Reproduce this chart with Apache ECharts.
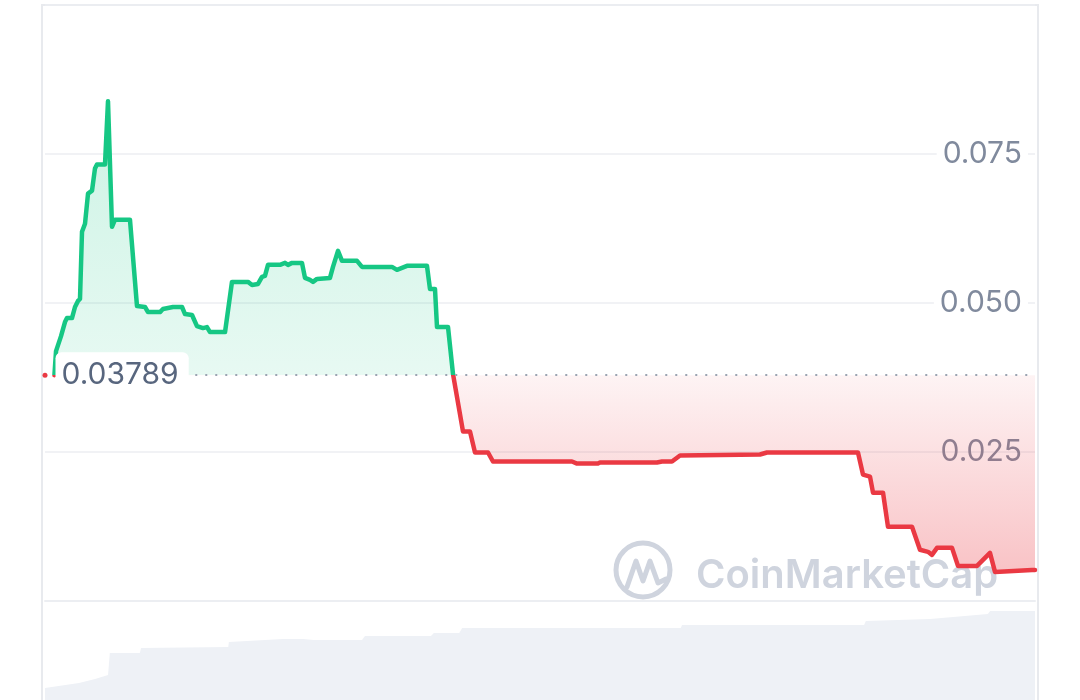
<!DOCTYPE html>
<html>
<head>
<meta charset="utf-8">
<script src="https://cdn.jsdelivr.net/npm/echarts@6/dist/echarts.min.js"></script>
<style>
html,body{margin:0;padding:0;background:#fff;}
#chart{width:1080px;height:700px;}
</style>
</head>
<body>
<div id="chart"></div>
<script>
// ---- data (time in hours over a 7-day window, price in USD) ----
const BASE_PRICE = 0.03789;
const hours = [1.6, 1.87, 2.72, 3.39, 3.73, 4.58, 5.09, 5.60, 5.94, 6.28,
  6.79, 7.30, 7.98, 8.48, 8.82, 10.18, 10.69, 11.37, 11.88, 14.42,
  15.61, 16.97, 17.48, 19.52, 20.02, 21.72, 23.25, 23.76, 24.95, 25.79,
  26.81, 27.49, 28.00, 30.55, 31.73, 34.45, 35.13, 36.15, 36.82, 37.33,
  37.84, 39.88, 40.73, 41.24, 41.92, 43.61, 44.12, 44.97, 45.48, 46.16,
  48.36, 48.87, 49.72, 50.40, 52.95, 53.79, 58.88, 59.73, 60.58, 61.43,
  64.82, 65.33, 66.18, 66.52, 68.39, 69.24, 70.93, 72.12, 72.97, 75.18,
  76.02, 89.43, 90.28, 93.84, 94.18, 103.85, 104.70, 106.40, 107.76, 121.33,
  122.52, 137.96, 138.81, 140.00, 140.51, 142.21, 143.05, 147.13, 148.48, 149.84,
  150.52, 151.37, 153.92, 154.93, 158.16, 158.67, 160.36, 161.21, 167.49, 168];
const prices = [0.03789, 0.04192, 0.04444, 0.04680, 0.04747, 0.04747, 0.04933, 0.05034, 0.05067, 0.06195,
  0.06330, 0.06835, 0.06886, 0.07256, 0.07323, 0.07323, 0.08384, 0.06279, 0.06397, 0.06397,
  0.04949, 0.04933, 0.04848, 0.04848, 0.04899, 0.04933, 0.04933, 0.04815, 0.04798, 0.04613,
  0.04579, 0.04596, 0.04512, 0.04512, 0.05354, 0.05354, 0.05303, 0.05320, 0.05438, 0.05455,
  0.05640, 0.05640, 0.05673, 0.05640, 0.05673, 0.05673, 0.05421, 0.05387, 0.05354, 0.05404,
  0.05421, 0.05606, 0.05875, 0.05707, 0.05707, 0.05606, 0.05606, 0.05556, 0.05589, 0.05623,
  0.05623, 0.05236, 0.05236, 0.04596, 0.04596, 0.03805, 0.02845, 0.02845, 0.02492, 0.02492,
  0.02340, 0.02340, 0.02306, 0.02306, 0.02323, 0.02323, 0.02340, 0.02340, 0.02441, 0.02458,
  0.02492, 0.02492, 0.02121, 0.02088, 0.01818, 0.01818, 0.01246, 0.01246, 0.00859, 0.00825,
  0.00774, 0.00892, 0.00892, 0.00589, 0.00589, 0.00640, 0.00808, 0.00488, 0.00522, 0.00522];
const volHours = [0, 5.77, 8.5, 10.7, 11.0, 16.1, 16.3, 31.1, 31.2, 40.4,
  43.8, 45.6, 53.8, 54.3, 65.5, 66.0, 70.3, 70.8, 107.9, 108.1,
  139.0, 139.3, 150.2, 160.0, 160.4, 168];
const volumes = [12, 17, 21, 25, 47, 47, 52, 53, 58, 61,
  61, 60, 60, 64, 64, 67, 67, 72, 72, 75,
  75, 79, 81, 86, 89, 89];
const priceTicks = [0.025, 0.05, 0.075];
const watermarkText = 'CoinMarketCap';

// ---- build ----
const priceData = hours.map((h, i) => [h, prices[i]]);
const volData = volHours.map((h, i) => [h, volumes[i]]);

const GREEN = '#16c784', RED = '#ea3943';
const gridTop = 5, gridBottomPx = 601;
const yMax = 0.1;
const baseFrac = (yMax - BASE_PRICE) / yMax;

const chart = echarts.init(document.getElementById('chart'));
const option = {
  backgroundColor: '#ffffff',
  animation: false,
  grid: [
    {left: 45, right: 45, top: gridTop, bottom: 700 - gridBottomPx},
    {left: 45, right: 45, top: gridBottomPx, bottom: 0}
  ],
  xAxis: [
    {type: 'value', gridIndex: 0, min: 0, max: 168,
      axisLine: {show: true, lineStyle: {color: '#eceef2', width: 2}},
      axisTick: {show: false}, axisLabel: {show: false}, splitLine: {show: false}},
    {type: 'value', gridIndex: 1, min: 0, max: 168, show: false}
  ],
  yAxis: [
    {type: 'value', gridIndex: 0, min: 0, max: yMax, interval: 0.025, position: 'right',
      axisLine: {show: false}, axisTick: {show: false},
      splitLine: {show: true, lineStyle: {color: '#eceef2', width: 1.5}},
      axisLabel: {
        inside: true, margin: 7, showMinLabel: false, showMaxLabel: false,
        formatter: v => (priceTicks.some(t => Math.abs(t - v) < 1e-9)
          ? (v > BASE_PRICE ? '{w|' + v.toFixed(3) + '}' : '{n|' + v.toFixed(3) + '}') : ''),
        rich: {
          w: {fontFamily: 'Inter', fontSize: 30, color: '#808a9d', backgroundColor: '#ffffff', padding: [2, 6]},
          n: {fontFamily: 'Inter', fontSize: 30, color: '#808a9d', padding: [2, 6]}
        }
      }},
    {type: 'value', gridIndex: 1, min: 0, max: 99, show: false}
  ],
  graphic: [
    {type: 'rect', silent: true, z: -1,
      shape: {x: 42, y: 5, width: 996, height: 720},
      style: {fill: 'none', stroke: '#e8eaee', lineWidth: 2}},
    {type: 'circle', silent: true, z: -1,
      shape: {cx: 643, cy: 570, r: 27},
      style: {fill: 'none', stroke: '#cfd4de', lineWidth: 5}},
    {type: 'polyline', silent: true, z: -1,
      shape: {points: [[627, 587], [636, 561], [643, 581], [650, 561], [658, 583], [666, 579]]},
      style: {fill: 'none', stroke: '#cfd4de', lineWidth: 5, lineJoin: 'round', lineCap: 'round'}},
    {type: 'text', silent: true, z: -1, x: 696, y: 576,
      style: {text: watermarkText, fill: '#cfd4de', font: '600 40px Inter', verticalAlign: 'middle', align: 'left'}}
  ],
  series: [
    {
      type: 'line', xAxisIndex: 0, yAxisIndex: 0, data: priceData,
      symbol: 'none', showSymbol: false, silent: true, z: 3,
      lineStyle: {
        width: 4.5, join: 'round', cap: 'round',
        color: {
          type: 'linear', x: 0, y: gridTop, x2: 0, y2: gridBottomPx, global: true,
          colorStops: [
            {offset: 0, color: GREEN},
            {offset: baseFrac, color: GREEN},
            {offset: baseFrac, color: RED},
            {offset: 1, color: RED}
          ]
        }
      },
      areaStyle: {
        origin: BASE_PRICE,
        opacity: 1,
        color: {
          type: 'linear', x: 0, y: gridTop, x2: 0, y2: gridBottomPx, global: true,
          colorStops: [
            {offset: 0, color: 'rgba(22,199,132,0.26)'},
            {offset: baseFrac, color: 'rgba(22,199,132,0.10)'},
            {offset: baseFrac, color: 'rgba(234,57,67,0.06)'},
            {offset: 1, color: 'rgba(234,57,67,0.34)'}
          ]
        }
      },
      markLine: {
        silent: true, symbol: ['none', 'none'],
        lineStyle: {type: [2, 8], color: '#9ba3b1', width: 2},
        label: {show: false},
        data: [[{coord: [25.5, BASE_PRICE]}, {coord: [168, BASE_PRICE]}]]
      },
      markPoint: {
        silent: true, symbol: 'circle', symbolSize: 5,
        itemStyle: {color: RED},
        label: {
          show: true, position: 'right', distance: 8,
          formatter: BASE_PRICE.toFixed(5),
          fontFamily: 'Inter', fontSize: 30, lineHeight: 30, color: '#58667e',
          backgroundColor: '#ffffff', borderRadius: 6, padding: [8, 10, 8, 6]
        },
        data: [{coord: [0, BASE_PRICE]}]
      }
    },
    {
      type: 'line', xAxisIndex: 1, yAxisIndex: 1, data: volData,
      symbol: 'none', showSymbol: false, silent: true,
      lineStyle: {width: 0, color: '#eef1f6'},
      itemStyle: {color: '#eef1f6'},
      areaStyle: {color: '#eef1f6', opacity: 1}
    }
  ]
};
chart.setOption(option);
</script>
</body>
</html>
